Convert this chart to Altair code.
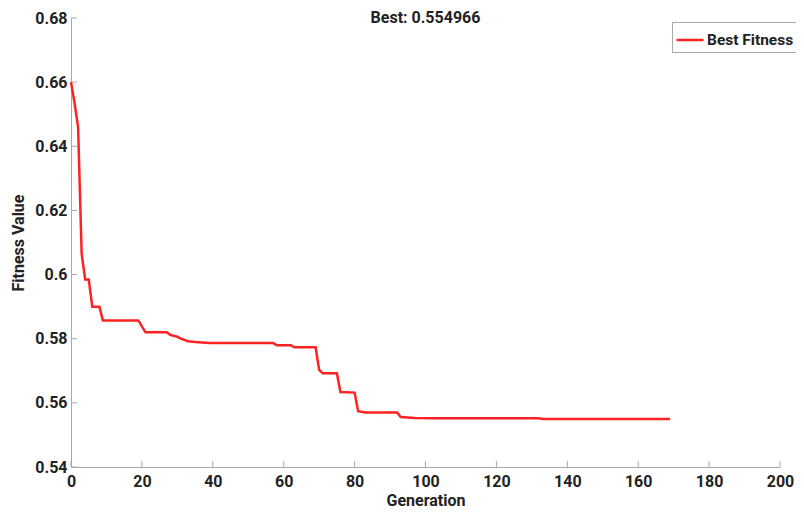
import altair as alt
import pandas as pd

# ---- data ----
generation = [0, 1, 2, 3, 4, 5, 6, 8, 9, 19, 21, 27, 28, 30, 31, 33, 35, 39,
              57, 58, 62, 63, 69, 70, 71, 75, 76, 80, 81, 83, 92, 93, 97, 102,
              132, 133, 169]
best_fitness = [0.6600, 0.6535, 0.6460, 0.6065, 0.5985, 0.5985, 0.5900, 0.5900,
                0.5857, 0.5857, 0.5820, 0.5820, 0.5812, 0.5806, 0.5800, 0.5792,
                0.5790, 0.5787, 0.5787, 0.5780, 0.5780, 0.5773, 0.5773, 0.5703,
                0.5692, 0.5692, 0.5634, 0.5632, 0.5574, 0.5570, 0.5570, 0.5556,
                0.5553, 0.5552, 0.5552, 0.554966, 0.554966]
x_ticks = [0, 20, 40, 60, 80, 100, 120, 140, 160, 180, 200]
y_ticks = [0.54, 0.56, 0.58, 0.60, 0.62, 0.64, 0.66, 0.68]
series_name = "Best Fitness"

df = pd.DataFrame({"Generation": generation, "Fitness": best_fitness,
                   "Series": [series_name] * len(generation)})
xt_df = pd.DataFrame({"Generation": x_ticks})
yt_df = pd.DataFrame({"Fitness": y_ticks})

W, H = 709, 449
FONT = "Roboto"
TXT = "#222222"
GRAY = "#a8a8a8"
RED = "#ff2222"

x_scale = alt.Scale(domain=[0, 200], nice=False, zero=False)
y_scale = alt.Scale(domain=[0.54, 0.68], nice=False, zero=False)

x_axis = alt.Axis(values=x_ticks, format="d", title="Generation",
                  labelPadding=6, titlePadding=3, labelFlush=False)
y_axis = alt.Axis(values=y_ticks, format="~g", title="Fitness Value",
                  labelPadding=4, titlePadding=8, labelFlush=False)

x_tick_rules = alt.Chart(xt_df).mark_rule(color=GRAY, strokeWidth=1).encode(
    x=alt.X("Generation:Q", scale=x_scale, axis=x_axis),
    y=alt.value(H), y2=alt.value(H - 6),
)
y_tick_rules = alt.Chart(yt_df).mark_rule(color=GRAY, strokeWidth=1).encode(
    y=alt.Y("Fitness:Q", scale=y_scale, axis=y_axis),
    x=alt.value(0), x2=alt.value(6),
)

line = alt.Chart(df).mark_line(strokeWidth=2.5).encode(
    x=alt.X("Generation:Q", scale=x_scale, axis=x_axis),
    y=alt.Y("Fitness:Q", scale=y_scale, axis=y_axis),
    color=alt.Color(
        "Series:N",
        scale=alt.Scale(domain=[series_name], range=[RED]),
        legend=alt.Legend(
            title=None, orient="none", legendX=601, legendY=4,
            strokeColor=GRAY, fillColor="white", padding=3, cornerRadius=0,
            symbolType="stroke", symbolSize=729, symbolStrokeWidth=2.5,
            labelFont=FONT, labelFontSize=15.5, labelFontWeight="bold",
            labelColor=TXT, labelOffset=2,
        ),
    ),
)

best_text = f"Best: {min(best_fitness):.6f}"

chart = alt.layer(x_tick_rules, y_tick_rules, line).properties(
    width=W, height=H,
    title=alt.TitleParams(best_text, font=FONT, fontSize=16, fontWeight="bold",
                          color=TXT, anchor="middle", offset=-16),
    autosize=alt.AutoSizeParams(type="none"),
    padding={"left": 63, "top": 10, "right": 16, "bottom": 44},
    background="white",
).configure_view(stroke=None).configure_axis(
    domainColor=GRAY, domainWidth=1, ticks=False, grid=False,
    labelFont=FONT, labelFontSize=16, labelFontWeight="bold", labelColor=TXT,
    titleFont=FONT, titleFontSize=16, titleFontWeight="bold", titleColor=TXT,
)

chart.save("out.html", embed_options={"renderer": "svg", "actions": False})
